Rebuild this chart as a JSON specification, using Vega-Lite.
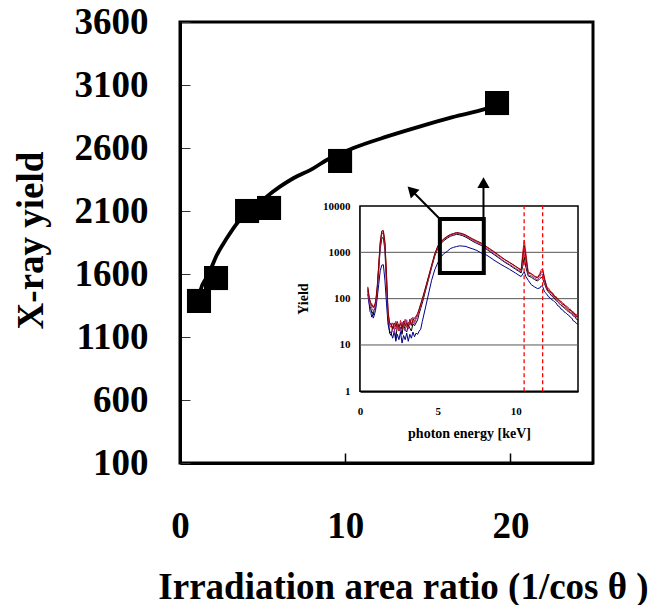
{
  "$schema": "https://vega.github.io/schema/vega-lite/v6.json",
  "width": 413,
  "height": 441,
  "autosize": "none",
  "padding": {"left": 180, "top": 22, "right": 63, "bottom": 142},
  "background": "white",
  "config": {
    "font": "Liberation Serif",
    "view": {"stroke": "black", "strokeWidth": 3}
  },
  "resolve": {"scale": {"x": "independent", "y": "independent"}, "axis": {"x": "independent", "y": "independent"}},
  "layer": [
    {
      "layer": [
        {
          "data": {"values": [
            {"x": 1.15, "y": 1390}, {"x": 1.25, "y": 1473}, {"x": 1.6, "y": 1570}, {"x": 1.92, "y": 1658},
            {"x": 2.18, "y": 1737}, {"x": 2.83, "y": 1883}, {"x": 3.53, "y": 2015}, {"x": 4.34, "y": 2112},
            {"x": 5.25, "y": 2214}, {"x": 6.05, "y": 2293}, {"x": 6.86, "y": 2360}, {"x": 8.07, "y": 2439},
            {"x": 8.88, "y": 2505}, {"x": 10.5, "y": 2600}, {"x": 12.5, "y": 2690}, {"x": 14.5, "y": 2770},
            {"x": 16.5, "y": 2845}, {"x": 18.5, "y": 2910}, {"x": 19.2, "y": 2940}
          ]},
          "mark": {"type": "line", "color": "black", "strokeWidth": 3.8, "interpolate": "monotone"},
          "encoding": {
            "x": {"field": "x", "type": "quantitative",
              "scale": {"domain": [0, 25], "nice": false, "zero": false},
              "axis": {"orient": "bottom", "values": [0, 10, 20], "format": "d", "grid": false,
                "labelFontSize": 37, "labelFontWeight": "bold", "labelColor": "black", "labelBaseline": "alphabetic",
                "labelPadding": 84, "labelFlush": false, "labelOverlap": false,
                "tickSize": -10, "tickWidth": 1.5, "tickColor": "black",
                "domainWidth": 3, "domainColor": "black",
                "title": "Irradiation area ratio (1/cos θ )", "titleFontSize": 37, "titleFontWeight": "bold", "titleColor": "black",
                "titleX": 223, "titleY": 135, "titleBaseline": "alphabetic", "titleAlign": "center"}},
            "y": {"field": "y", "type": "quantitative",
              "scale": {"domain": [100, 3600], "nice": false, "zero": false},
              "axis": {"orient": "left", "values": [100, 600, 1100, 1600, 2100, 2600, 3100, 3600], "format": "d", "grid": false,
                "labelFontSize": 37, "labelFontWeight": "bold", "labelColor": "black", "labelPadding": 42,
                "labelFlush": false, "labelOverlap": false,
                "tickSize": -10, "tickWidth": 1, "tickColor": "#333",
                "domainWidth": 3, "domainColor": "black",
                "title": "X-ray yield", "titleFontSize": 37, "titleFontWeight": "bold", "titleColor": "black",
                "titleAngle": 270, "titleX": -149, "titleY": 218, "titleBaseline": "middle", "titleAlign": "center"}}
          }
        },
        {
          "data": {"values": [
            {"x": 1.15, "y": 1386}, {"x": 2.18, "y": 1568}, {"x": 4.06, "y": 2100},
            {"x": 5.39, "y": 2124}, {"x": 9.69, "y": 2497}, {"x": 19.19, "y": 2957}
          ]},
          "mark": {"type": "square", "size": 580, "color": "black", "opacity": 1},
          "encoding": {
            "x": {"field": "x", "type": "quantitative"},
            "y": {"field": "y", "type": "quantitative"}
          }
        }
      ]
    },
    {
      "layer": [
        {
          "data": {"values": [{"x": 0, "x2": 14, "y": 1, "y2": 10000}]},
          "mark": {"type": "rect", "fill": "white", "stroke": "black", "strokeWidth": 1.5},
          "encoding": {
            "x": {"field": "x", "type": "quantitative",
              "scale": {"domain": [0, 14], "range": [180, 398], "nice": false, "zero": false},
              "axis": {"orient": "bottom", "offset": -71.7, "values": [0, 5, 10], "format": "d", "grid": false,
                "labelFontSize": 11, "labelFontWeight": "bold", "labelColor": "black", "labelBaseline": "alphabetic",
                "labelPadding": 27, "labelFlush": false,
                "tickSize": -4, "tickWidth": 1, "tickColor": "black",
                "domainWidth": 2, "domainColor": "black",
                "title": "photon energy [keV]", "titleFontSize": 14, "titleFontWeight": "bold", "titleColor": "black",
                "titleY": 42, "titleBaseline": "middle"}},
            "x2": {"field": "x2"},
            "y": {"field": "y", "type": "quantitative",
              "scale": {"type": "log", "domain": [1, 10000], "range": [369.3, 184], "nice": false},
              "axis": {"orient": "left", "offset": -180, "values": [1, 10, 100, 1000, 10000], "format": "d", "grid": false,
                "labelFontSize": 11, "labelFontWeight": "bold", "labelColor": "black", "labelPadding": 10,
                "labelFlush": false, "ticks": false,
                "domainWidth": 2, "domainColor": "black",
                "title": "Yield", "titleFontSize": 14, "titleFontWeight": "bold", "titleColor": "black",
                "titleAngle": 270, "titleX": -57, "titleY": 276.6, "titleBaseline": "middle", "titleAlign": "center"}},
            "y2": {"field": "y2"}
          }
        },
        {
          "data": {"values": [{"x": 0, "x2": 14, "y": 10}, {"x": 0, "x2": 14, "y": 100}, {"x": 0, "x2": 14, "y": 1000}]},
          "mark": {"type": "rule", "color": "#555", "strokeWidth": 1},
          "encoding": {
            "x": {"field": "x", "type": "quantitative"},
            "x2": {"field": "x2"},
            "y": {"field": "y", "type": "quantitative"}
          }
        },
        {
          "data": {"values": [
            {"e": 0.5, "dr": 180, "r": 170, "m": 160, "k": 150, "b": 125},
            {"e": 0.6, "dr": 105, "r": 95, "m": 85, "k": 80, "b": 70},
            {"e": 0.65, "dr": 88, "r": 92, "m": 74, "k": 66, "b": 52},
            {"e": 0.7, "dr": 80, "r": 75, "m": 70, "k": 60, "b": 50},
            {"e": 0.75, "dr": 70, "r": 78, "m": 62, "k": 50, "b": 40},
            {"e": 0.8, "dr": 72, "r": 68, "m": 60, "k": 52, "b": 45},
            {"e": 0.85, "dr": 64, "r": 70, "m": 55, "k": 44, "b": 38},
            {"e": 0.9, "dr": 68, "r": 64, "m": 58, "k": 55, "b": 42},
            {"e": 1.0, "dr": 85, "r": 80, "m": 70, "k": 65, "b": 56},
            {"e": 1.1, "dr": 170, "r": 160, "m": 150, "k": 140, "b": 100},
            {"e": 1.2, "dr": 520, "r": 500, "m": 450, "k": 400, "b": 200},
            {"e": 1.3, "dr": 1700, "r": 1600, "m": 1400, "k": 1200, "b": 400},
            {"e": 1.4, "dr": 2900, "r": 2700, "m": 2500, "k": 2000, "b": 530},
            {"e": 1.5, "dr": 2950, "r": 2800, "m": 2600, "k": 2100, "b": 540},
            {"e": 1.6, "dr": 1700, "r": 1600, "m": 1400, "k": 1100, "b": 250},
            {"e": 1.7, "dr": 350, "r": 320, "m": 280, "k": 200, "b": 80},
            {"e": 1.8, "dr": 55, "r": 50, "m": 45, "k": 40, "b": 28},
            {"e": 1.9, "dr": 30, "r": 27, "m": 26, "k": 18, "b": 20},
            {"e": 2.0, "dr": 28, "r": 24, "m": 30, "k": 16, "b": 18},
            {"e": 2.1, "dr": 22, "r": 30, "m": 20, "k": 25, "b": 14},
            {"e": 2.2, "dr": 30, "r": 26, "m": 18, "k": 22, "b": 20},
            {"e": 2.3, "dr": 25, "r": 22, "m": 33, "k": 14, "b": 12},
            {"e": 2.4, "dr": 32, "r": 28, "m": 22, "k": 26, "b": 17},
            {"e": 2.5, "dr": 24, "r": 20, "m": 28, "k": 20, "b": 13},
            {"e": 2.6, "dr": 29, "r": 34, "m": 19, "k": 24, "b": 19},
            {"e": 2.7, "dr": 22, "r": 25, "m": 31, "k": 17, "b": 11},
            {"e": 2.8, "dr": 33, "r": 27, "m": 24, "k": 28, "b": 16},
            {"e": 2.9, "dr": 26, "r": 36, "m": 20, "k": 21, "b": 13},
            {"e": 3.0, "dr": 30, "r": 24, "m": 35, "k": 19, "b": 18},
            {"e": 3.1, "dr": 25, "r": 31, "m": 22, "k": 27, "b": 12},
            {"e": 3.2, "dr": 36, "r": 28, "m": 30, "k": 23, "b": 17},
            {"e": 3.3, "dr": 27, "r": 38, "m": 26, "k": 20, "b": 14},
            {"e": 3.4, "dr": 34, "r": 30, "m": 40, "k": 29, "b": 19},
            {"e": 3.5, "dr": 38, "r": 33, "m": 29, "k": 26, "b": 15},
            {"e": 3.6, "dr": 42, "r": 40, "m": 36, "k": 30, "b": 18},
            {"e": 3.7, "dr": 48, "r": 45, "m": 42, "k": 35, "b": 17},
            {"e": 3.8, "dr": 60, "r": 58, "m": 55, "k": 48, "b": 20},
            {"e": 3.9, "dr": 78, "r": 74, "m": 70, "k": 62, "b": 22},
            {"e": 4.0, "dr": 100, "r": 95, "m": 90, "k": 80, "b": 32},
            {"e": 4.2, "dr": 170, "r": 165, "m": 160, "k": 145, "b": 63},
            {"e": 4.4, "dr": 300, "r": 290, "m": 280, "k": 260, "b": 126},
            {"e": 4.6, "dr": 530, "r": 510, "m": 500, "k": 470, "b": 250},
            {"e": 4.8, "dr": 930, "r": 900, "m": 880, "k": 830, "b": 420},
            {"e": 5.0, "dr": 1380, "r": 1340, "m": 1300, "k": 1230, "b": 600},
            {"e": 5.2, "dr": 1720, "r": 1690, "m": 1640, "k": 1560, "b": 800},
            {"e": 5.4, "dr": 1980, "r": 1940, "m": 1890, "k": 1800, "b": 950},
            {"e": 5.6, "dr": 2220, "r": 2180, "m": 2120, "k": 2020, "b": 1050},
            {"e": 5.8, "dr": 2430, "r": 2380, "m": 2320, "k": 2220, "b": 1200},
            {"e": 6.0, "dr": 2550, "r": 2500, "m": 2430, "k": 2330, "b": 1280},
            {"e": 6.2, "dr": 2680, "r": 2620, "m": 2550, "k": 2440, "b": 1330},
            {"e": 6.4, "dr": 2620, "r": 2560, "m": 2490, "k": 2390, "b": 1380},
            {"e": 6.6, "dr": 2520, "r": 2460, "m": 2380, "k": 2280, "b": 1360},
            {"e": 6.8, "dr": 2360, "r": 2300, "m": 2220, "k": 2120, "b": 1340},
            {"e": 7.0, "dr": 2160, "r": 2100, "m": 2020, "k": 1940, "b": 1260},
            {"e": 7.2, "dr": 1980, "r": 1920, "m": 1840, "k": 1760, "b": 1200},
            {"e": 7.5, "dr": 1760, "r": 1720, "m": 1640, "k": 1560, "b": 1100},
            {"e": 7.8, "dr": 1580, "r": 1540, "m": 1460, "k": 1400, "b": 960},
            {"e": 8.0, "dr": 1420, "r": 1380, "m": 1300, "k": 1250, "b": 930},
            {"e": 8.3, "dr": 1220, "r": 1180, "m": 1110, "k": 1060, "b": 800},
            {"e": 8.6, "dr": 1040, "r": 1010, "m": 940, "k": 900, "b": 680},
            {"e": 9.0, "dr": 830, "r": 800, "m": 740, "k": 720, "b": 560},
            {"e": 9.3, "dr": 700, "r": 690, "m": 630, "k": 610, "b": 490},
            {"e": 9.6, "dr": 610, "r": 600, "m": 550, "k": 530, "b": 430},
            {"e": 10.0, "dr": 500, "r": 490, "m": 450, "k": 430, "b": 355},
            {"e": 10.2, "dr": 450, "r": 440, "m": 410, "k": 390, "b": 320},
            {"e": 10.35, "dr": 420, "r": 400, "m": 380, "k": 360, "b": 300},
            {"e": 10.45, "dr": 800, "r": 1000, "m": 700, "k": 500, "b": 340},
            {"e": 10.55, "dr": 1400, "r": 1850, "m": 1150, "k": 800, "b": 380},
            {"e": 10.65, "dr": 800, "r": 1000, "m": 650, "k": 480, "b": 300},
            {"e": 10.8, "dr": 360, "r": 380, "m": 330, "k": 310, "b": 250},
            {"e": 11.0, "dr": 340, "r": 350, "m": 310, "k": 290, "b": 200},
            {"e": 11.2, "dr": 300, "r": 310, "m": 280, "k": 260, "b": 180},
            {"e": 11.4, "dr": 280, "r": 290, "m": 255, "k": 240, "b": 165},
            {"e": 11.55, "dr": 330, "r": 350, "m": 300, "k": 270, "b": 170},
            {"e": 11.65, "dr": 380, "r": 430, "m": 340, "k": 290, "b": 190},
            {"e": 11.75, "dr": 380, "r": 420, "m": 330, "k": 260, "b": 175},
            {"e": 11.85, "dr": 260, "r": 280, "m": 230, "k": 210, "b": 140},
            {"e": 12.0, "dr": 175, "r": 180, "m": 165, "k": 155, "b": 125},
            {"e": 12.1, "dr": 150, "r": 170, "m": 150, "k": 140, "b": 110},
            {"e": 12.2, "dr": 145, "r": 150, "m": 135, "k": 128, "b": 105},
            {"e": 12.3, "dr": 135, "r": 128, "m": 140, "k": 115, "b": 95},
            {"e": 12.4, "dr": 130, "r": 118, "m": 110, "k": 108, "b": 92},
            {"e": 12.5, "dr": 110, "r": 115, "m": 108, "k": 100, "b": 85},
            {"e": 12.6, "dr": 110, "r": 98, "m": 100, "k": 90, "b": 80},
            {"e": 12.7, "dr": 95, "r": 102, "m": 88, "k": 86, "b": 70},
            {"e": 12.8, "dr": 90, "r": 92, "m": 80, "k": 78, "b": 68},
            {"e": 12.9, "dr": 88, "r": 80, "m": 84, "k": 72, "b": 60},
            {"e": 13.0, "dr": 82, "r": 75, "m": 72, "k": 68, "b": 58},
            {"e": 13.1, "dr": 72, "r": 78, "m": 66, "k": 64, "b": 52},
            {"e": 13.2, "dr": 70, "r": 66, "m": 62, "k": 60, "b": 50},
            {"e": 13.3, "dr": 68, "r": 60, "m": 64, "k": 55, "b": 46},
            {"e": 13.4, "dr": 62, "r": 56, "m": 58, "k": 52, "b": 44},
            {"e": 13.5, "dr": 55, "r": 60, "m": 50, "k": 50, "b": 40},
            {"e": 13.6, "dr": 55, "r": 50, "m": 46, "k": 48, "b": 38},
            {"e": 13.7, "dr": 48, "r": 52, "m": 48, "k": 42, "b": 33},
            {"e": 13.8, "dr": 48, "r": 44, "m": 40, "k": 41, "b": 32},
            {"e": 13.9, "dr": 40, "r": 46, "m": 42, "k": 36, "b": 29},
            {"e": 14.0, "dr": 42, "r": 36, "m": 38, "k": 35, "b": 28}
          ]},
          "transform": [{"fold": ["k", "b", "m", "r", "dr"], "as": ["s", "v"]}],
          "mark": {"type": "line", "strokeWidth": 1},
          "encoding": {
            "x": {"field": "e", "type": "quantitative"},
            "y": {"field": "v", "type": "quantitative"},
            "color": {"field": "s", "type": "nominal", "legend": null,
              "scale": {"domain": ["k", "b", "m", "r", "dr"], "range": ["#000000", "#00008B", "#9933AA", "#D02030", "#800000"]}}
          }
        },
        {
          "data": {"values": [{"x": 10.54, "y": 1, "y2": 10000}, {"x": 11.73, "y": 1, "y2": 10000}]},
          "mark": {"type": "rule", "color": "red", "strokeWidth": 1.3, "strokeDash": [4, 3]},
          "encoding": {
            "x": {"field": "x", "type": "quantitative"},
            "y": {"field": "y", "type": "quantitative"},
            "y2": {"field": "y2"}
          }
        },
        {
          "data": {"values": [{"x": 5.13, "x2": 7.95, "y": 357, "y2": 5240}]},
          "mark": {"type": "rect", "fillOpacity": 0, "fill": "white", "stroke": "black", "strokeWidth": 4},
          "encoding": {
            "x": {"field": "x", "type": "quantitative"},
            "x2": {"field": "x2"},
            "y": {"field": "y", "type": "quantitative"},
            "y2": {"field": "y2"}
          }
        },
        {
          "data": {"values": [{"x": 5.13, "y": 5240, "x2": 3.35, "y2": 21000}, {"x": 7.93, "y": 5240, "x2": 7.93, "y2": 30000}]},
          "mark": {"type": "rule", "color": "black", "strokeWidth": 2},
          "encoding": {
            "x": {"field": "x", "type": "quantitative"},
            "x2": {"field": "x2"},
            "y": {"field": "y", "type": "quantitative"},
            "y2": {"field": "y2"}
          }
        },
        {
          "data": {"values": [{"x": 3.3, "y": 21800}]},
          "mark": {"type": "point", "shape": "triangle-up", "size": 150, "filled": true, "color": "black", "opacity": 1, "angle": 315},
          "encoding": {
            "x": {"field": "x", "type": "quantitative"},
            "y": {"field": "y", "type": "quantitative"}
          }
        },
        {
          "data": {"values": [{"x": 7.93, "y": 32000}]},
          "mark": {"type": "point", "shape": "triangle-up", "size": 150, "filled": true, "color": "black", "opacity": 1, "angle": 0},
          "encoding": {
            "x": {"field": "x", "type": "quantitative"},
            "y": {"field": "y", "type": "quantitative"}
          }
        }
      ]
    }
  ]
}
